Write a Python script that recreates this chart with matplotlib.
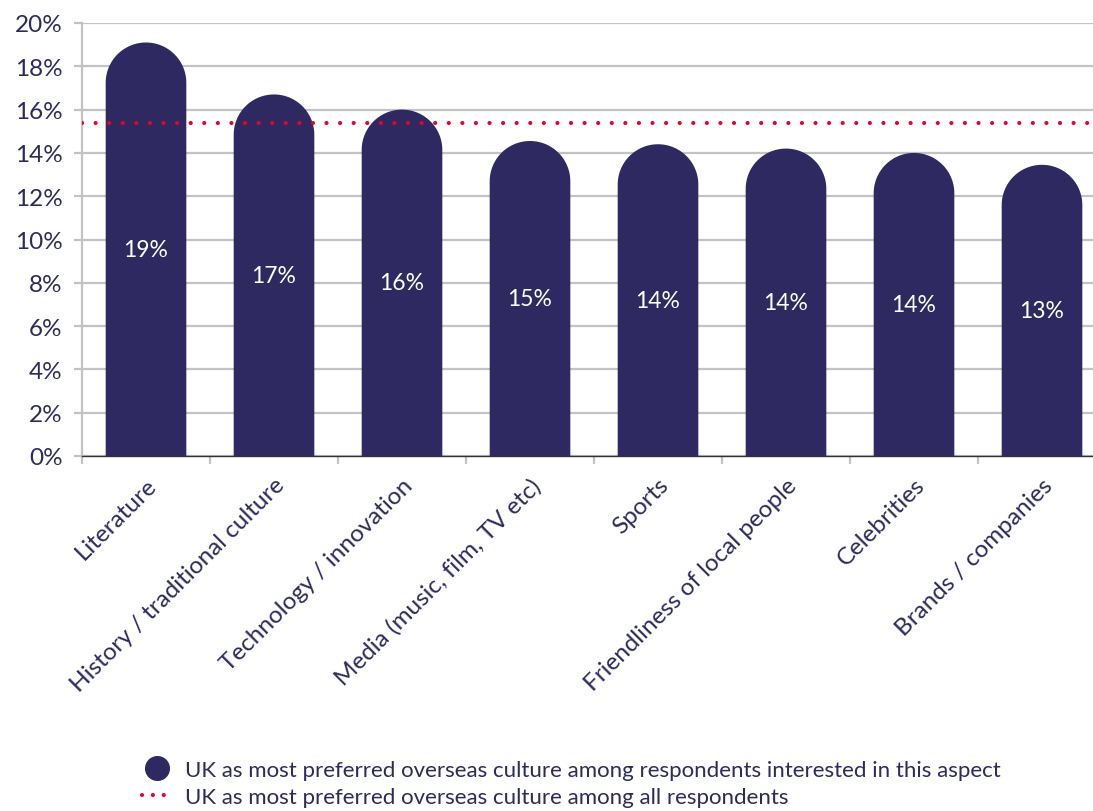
import numpy as np
import matplotlib.pyplot as plt
from matplotlib.patches import PathPatch
from matplotlib.path import Path
from matplotlib.lines import Line2D

# Share preferring UK culture, by aspect of culture respondents are interested in
aspects = [
    "Literature",
    "History / traditional culture",
    "Technology / innovation",
    "Media (music, film, TV etc)",
    "Sports",
    "Friendliness of local people",
    "Celebrities",
    "Brands / companies",
]
share = [19.1, 16.7, 16.0, 14.55, 14.4, 14.2, 14.0, 13.45]
all_respondents = 15.4
y_ticks = [0, 2, 4, 6, 8, 10, 12, 14, 16, 18, 20]

navy = "#2e2960"
text_col = "#2d2a5e"
red = "#e4032e"
grey = "#c3c3c3"

plt.rcParams["font.family"] = ["Lato", "DejaVu Sans"]

fig = plt.figure(figsize=(10.93, 8.12), dpi=100)
# axes box in pixels: left 82, right 1093, bottom 457, top 24
ax = fig.add_axes([82 / 1093, 1 - 457 / 812, (1093 - 82) / 1093, (457 - 24) / 812])

xlim = (-0.5, -0.5 + (1093 - 82) / 128)
ylim = (0, 20)
ax.set_xlim(*xlim)
ax.set_ylim(*ylim)

bar_w = 0.63
# pixels per data unit, so the rounded caps come out as true semicircles
px_x = (1093 - 82) / (xlim[1] - xlim[0])
px_y = (457 - 24) / (ylim[1] - ylim[0])
cap_r = (bar_w / 2) * px_x / px_y


def rounded_bar(x, top):
    """Bar outline from 0 up to `top`, closed by a semicircular cap."""
    half = bar_w / 2
    base = top - cap_r
    t = np.linspace(0, np.pi, 60)
    arc = np.column_stack([x + half * np.cos(t), base + cap_r * np.sin(t)])
    verts = np.vstack([[x + half, 0], arc, [x - half, 0], [x + half, 0]])
    codes = [Path.MOVETO] + [Path.LINETO] * (len(verts) - 2) + [Path.CLOSEPOLY]
    return PathPatch(Path(verts, codes), facecolor=navy, edgecolor="none",
                     zorder=3)


for x, v in enumerate(share):
    ax.add_patch(rounded_bar(x, v))
    ax.text(x, v / 2, f"{v:.0f}%", color="white", fontsize=16.5,
            ha="center", va="center", zorder=4)

ax.axhline(all_respondents, color=red, linewidth=3,
           linestyle=(0, (0.01, 3.25)), dash_capstyle="round", zorder=5)

# axes styling
ax.set_yticks(y_ticks)
ax.set_yticklabels([f"{t}%" for t in y_ticks])
ax.yaxis.grid(True, color=grey, linewidth=1.6, zorder=0)
ax.set_axisbelow(True)
ax.tick_params(axis="y", length=6, width=1.6, color=grey, pad=8,
               labelsize=17.5, labelcolor=text_col)

ax.set_xticks([i - 0.5 for i in range(len(aspects))])
ax.set_xticklabels([])
ax.set_xticks(list(range(len(aspects))), minor=True)
ax.set_xticklabels(aspects, minor=True, rotation=45, ha="right",
                   va="top", rotation_mode="anchor")
ax.tick_params(axis="x", which="major", length=6, width=1.6, color=grey)
ax.tick_params(axis="x", which="minor", length=0, pad=13, labelsize=17.5,
               labelcolor=text_col)

for side in ("top", "right"):
    ax.spines[side].set_visible(False)
ax.spines["left"].set_color(grey)
ax.spines["left"].set_linewidth(1.6)
ax.spines["bottom"].set_color("#333333")
ax.spines["bottom"].set_linewidth(1.0)
ax.spines["bottom"].set_zorder(6)

handles = [
    Line2D([], [], linestyle="none", marker="o", markersize=17,
           color=navy),
    Line2D([], [], color=red, linewidth=3, linestyle=(0, (0.01, 2.6)),
           dash_capstyle="round"),
]
labels = [
    "UK as most preferred overseas culture among respondents interested in this aspect",
    "UK as most preferred overseas culture among all respondents",
]
fig.legend(handles, labels, loc="upper left",
           bbox_to_anchor=(142 / 1093, 1 - 761 / 812), frameon=False,
           fontsize=16, labelcolor=text_col, handlelength=1.35,
           handletextpad=0.6, labelspacing=0.3, borderpad=0,
           borderaxespad=0)

fig.savefig("out.png", dpi=100)
